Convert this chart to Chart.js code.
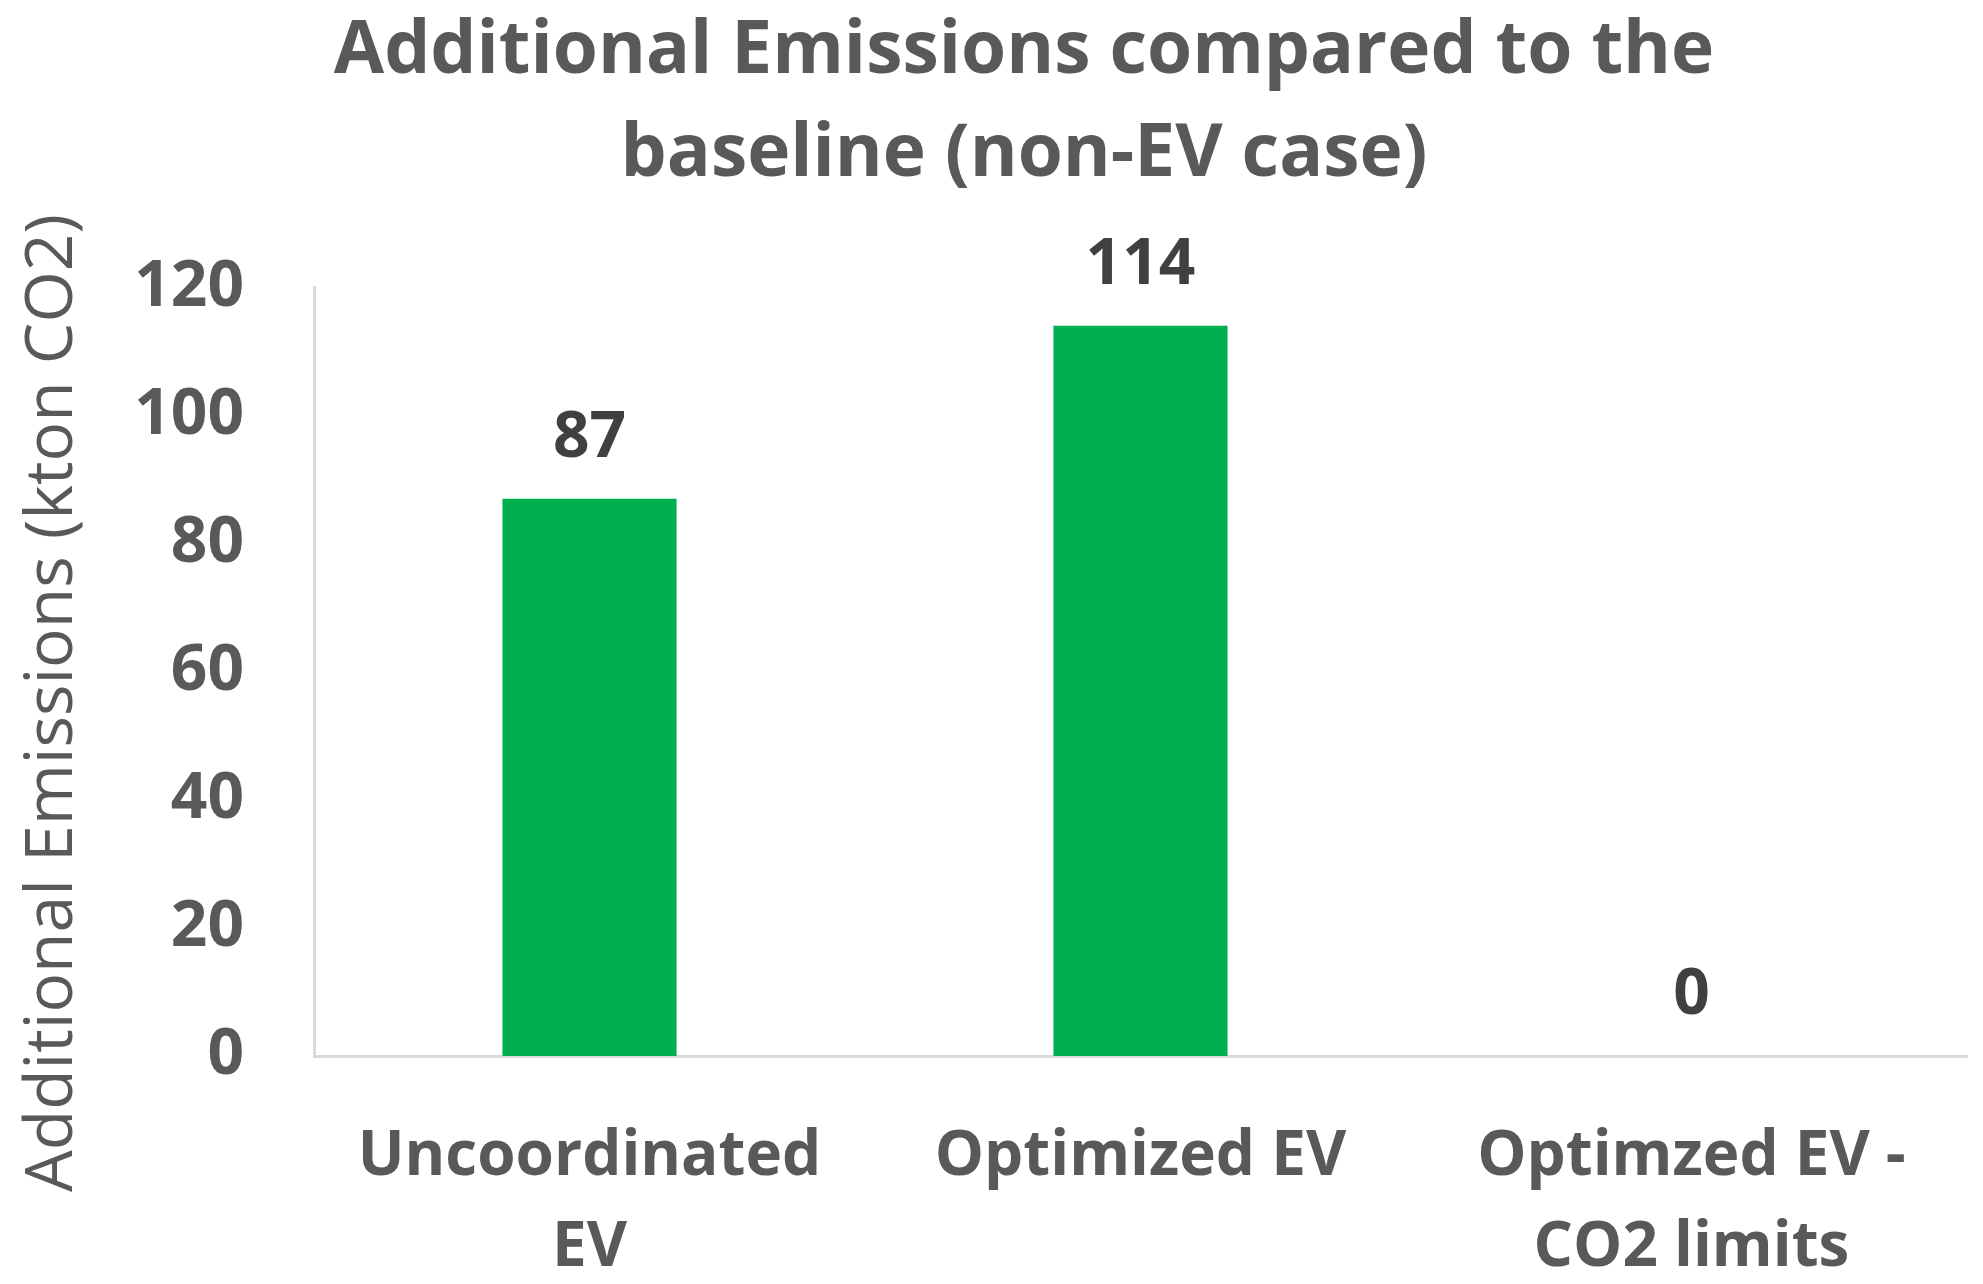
<!DOCTYPE html>
<html>
<head>
<meta charset="utf-8">
<script src="https://cdn.jsdelivr.net/npm/chart.js@4/dist/chart.umd.min.js"></script>
<style>
  html, body { margin: 0; padding: 0; background: #fff; overflow: hidden; }
  #emissions { display: block; }
</style>
</head>
<body>
<canvas id="emissions" width="1983" height="1284"></canvas>
<script>
// chart data
var categories = [['Uncoordinated', 'EV'], 'Optimized EV', ['Optimzed EV -', 'CO2 limits']];
var emissions = [87, 114, 0];
var yTicks = [0, 20, 40, 60, 80, 100, 120];
var titleLines = ['Additional Emissions compared to the', 'baseline (non-EV case)'];
var yTitle = 'Additional Emissions (kton CO2)';

var FONT = "'Open Sans', sans-serif";
var GREY = '#595959';

// value labels above bars
var barLabels = {
    id: 'barLabels',
    afterDatasetsDraw: function (chart) {
        var ctx = chart.ctx;
        var meta = chart.getDatasetMeta(0);
        ctx.save();
        ctx.font = 'bold 64px ' + FONT;
        ctx.fillStyle = '#404040';
        ctx.textAlign = 'center';
        ctx.textBaseline = 'middle';
        meta.data.forEach(function (bar, i) {
            ctx.fillText(String(emissions[i]), bar.x, bar.y - 60);
        });
        ctx.restore();
    }
};

// rotated y axis title (Excel centres it lower than the plot)
var axisTitle = {
    id: 'axisTitle',
    afterDraw: function (chart) {
        var ctx = chart.ctx;
        ctx.save();
        ctx.translate(53, 703);
        ctx.rotate(-Math.PI / 2);
        ctx.font = '66px ' + FONT;
        ctx.fillStyle = GREY;
        ctx.textAlign = 'center';
        ctx.textBaseline = 'middle';
        ctx.fillText(yTitle, 0, 0);
        ctx.restore();
    }
};

var ctx = document.getElementById('emissions').getContext('2d');
var chart = new Chart(ctx, {
    type: 'bar',
    data: {
        labels: categories,
        datasets: [{
            data: emissions,
            backgroundColor: '#00B050',
            borderWidth: 0,
            barPercentage: 0.316,
            categoryPercentage: 1
        }]
    },
    options: {
        responsive: false,
        animation: false,
        devicePixelRatio: 1,
        layout: {
            padding: { left: 81, right: 16, top: 0, bottom: 0 }
        },
        scales: {
            y: {
                min: 0,
                max: 120,
                afterFit: function (scale) { scale.width = 233; },
                afterBuildTicks: function (scale) {
                    scale.ticks = yTicks.map(function (v) { return { value: v }; });
                },
                grid: { display: false, drawTicks: false },
                border: { display: true, color: '#D9D9D9', width: 3 },
                ticks: {
                    padding: 70,
                    color: GREY,
                    font: { family: FONT, size: 64, weight: 'bold' }
                }
            },
            x: {
                afterFit: function (scale) { scale.height = 228; },
                grid: { display: false, drawTicks: false },
                border: { display: true, color: '#D9D9D9', width: 3 },
                ticks: {
                    padding: 56,
                    color: GREY,
                    maxRotation: 0,
                    autoSkip: false,
                    font: { family: FONT, size: 62, weight: 'bold', lineHeight: 1.47 }
                }
            }
        },
        plugins: {
            legend: { display: false },
            tooltip: { enabled: false },
            title: {
                display: true,
                text: titleLines,
                color: GREY,
                padding: { top: 0, bottom: 80 },
                font: { family: FONT, size: 73, weight: 'bold', lineHeight: 1.42 }
            }
        }
    },
    plugins: [barLabels, axisTitle]
});
</script>
</body>
</html>
